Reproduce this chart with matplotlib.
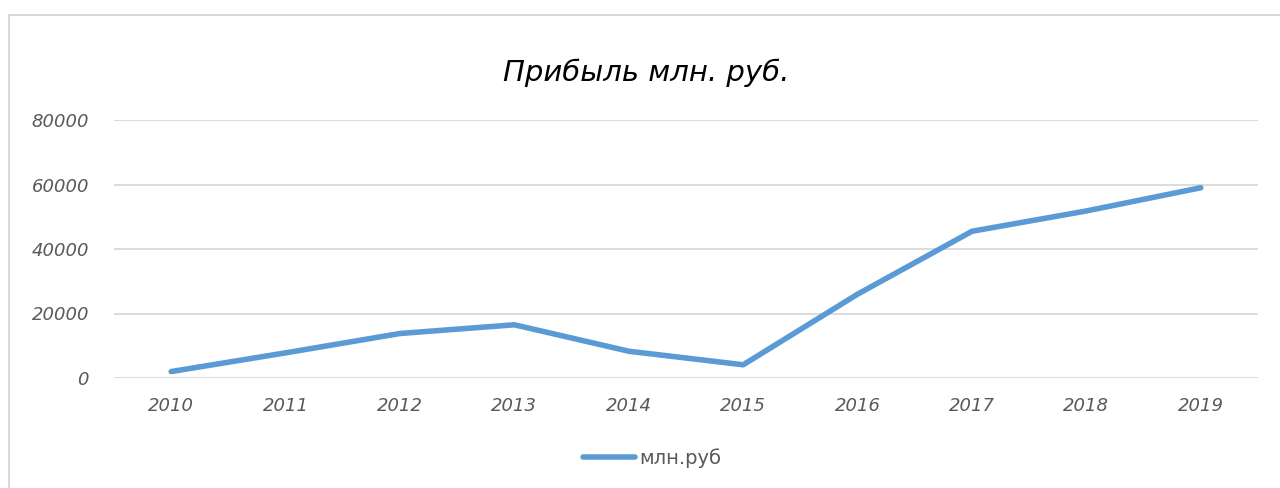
import matplotlib
matplotlib.use("Agg")
import matplotlib.pyplot as plt
from matplotlib.patches import Rectangle

years = ["2010", "2011", "2012", "2013", "2014", "2015", "2016", "2017", "2018", "2019"]
profit = [2000, 7800, 13800, 16500, 8300, 4100, 26000, 45500, 51800, 59000]
yticks = [0, 20000, 40000, 60000, 80000]
series_name = "млн.руб"
title = "Прибыль млн. руб."

fig = plt.figure(figsize=(12.8, 4.88), dpi=100)
fig.patch.set_facecolor("white")
fig.add_artist(Rectangle((9/1280, -0.1), 1.2, 1 - 15/488 + 0.1, transform=fig.transFigure,
                         fill=False, edgecolor="#D9D9D9", linewidth=1.5))

ax = fig.add_axes([114/1280, 1 - 378/488, (1258 - 114)/1280, (378 - 120)/488])
x = list(range(len(years)))
ax.plot(x, profit, color="#5B9BD5", linewidth=4, solid_capstyle="round", label=series_name, zorder=3)
ax.set_xlim(-0.5, len(years) - 0.5)
ax.set_ylim(0, 80000)
ax.set_yticks(yticks)
ax.set_yticklabels([str(v) for v in yticks], fontsize=13, fontstyle="italic", color="#595959",
                   family="DejaVu Sans", fontweight="light")
ax.set_xticks(x)
ax.set_xticklabels(years, fontsize=13, fontstyle="italic", color="#595959", family="DejaVu Sans")
ax.tick_params(axis="both", length=0)
ax.tick_params(axis="y", pad=18)
ax.tick_params(axis="x", pad=14)
ax.grid(axis="y", color="#D9D9D9", linewidth=1.3)
for s in ax.spines.values():
    s.set_visible(False)
ax.set_axisbelow(True)

fig.text(646/1280, 1 - 73/488, title, ha="center", va="center", fontsize=21,
         fontstyle="italic", family="DejaVu Sans", color="black")

leg = fig.legend(loc="center", bbox_to_anchor=(652/1280, 1 - 458/488), frameon=False,
                 fontsize=14, handlelength=2.7, handletextpad=0.2)
for t in leg.get_texts():
    t.set_color("#595959")

fig.savefig("out.png", dpi=100)
